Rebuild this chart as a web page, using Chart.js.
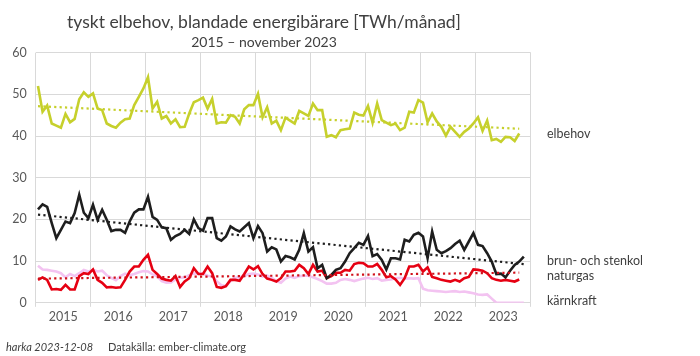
<!DOCTYPE html>
<html>
<head>
<meta charset="utf-8">
<script src="https://cdn.jsdelivr.net/npm/chart.js@4.4.0/dist/chart.umd.min.js"></script>
<style>
  body { margin: 0; background: #fff; }
  canvas { display: block; }
</style>
</head>
<body>
<canvas id="chart" width="700" height="356"></canvas>
<script>
'use strict';

// month series, Jan 2015 onwards [TWh/month]
const years = ['2015', '2016', '2017', '2018', '2019', '2020', '2021', '2022', '2023'];

const elbehov = [
  52.0, 45.8, 47.3, 43.0, 42.5, 42.0, 45.3, 43.3, 44.1, 48.8, 50.5, 49.4,
  50.2, 46.6, 46.2, 43.0, 42.4, 42.0, 43.2, 44.0, 44.2, 47.4, 49.4, 51.4,
  54.1, 46.6, 48.2, 44.2, 44.8, 43.0, 44.0, 42.1, 42.2, 45.4, 48.1, 48.6,
  49.2, 46.6, 48.9, 43.0, 43.3, 43.2, 45.0, 44.6, 43.0, 46.4, 47.4, 47.4,
  50.1, 44.5, 46.9, 43.0, 43.7, 41.4, 44.4, 43.7, 43.0, 46.0, 45.4, 44.8,
  47.8, 46.2, 46.2, 39.8, 40.2, 39.7, 41.4, 41.6, 41.8, 45.6, 45.1, 44.9,
  47.2, 43.2, 47.8, 43.8, 43.2, 42.6, 43.0, 41.4, 42.0, 45.8, 45.6, 48.6,
  48.0, 43.3, 45.4, 43.5, 42.2, 40.1, 42.2, 41.0, 39.8, 41.0, 41.8, 43.0,
  44.5, 41.2, 43.7, 39.0, 39.3, 38.6, 39.8, 39.7, 38.8, 40.6
];

const kol = [
  22.4, 23.6, 23.0, 19.1, 15.5, 17.5, 19.5, 19.1, 21.5, 25.9, 21.6, 20.3,
  23.5, 19.9, 22.3, 19.9, 17.2, 17.5, 17.5, 16.8, 19.5, 21.6, 22.4, 22.4,
  25.4, 20.6, 19.9, 18.1, 17.9, 15.1, 16.0, 16.5, 17.5, 16.5, 20.0, 17.9,
  17.3, 20.3, 20.3, 15.5, 14.9, 15.9, 18.3, 17.6, 17.1, 18.1, 19.1, 15.5,
  18.4, 16.7, 12.3, 13.3, 12.8, 9.9, 11.2, 10.9, 10.4, 12.7, 16.7, 12.3,
  13.3, 8.3, 9.1, 5.9, 6.7, 7.9, 8.3, 9.9, 11.9, 13.1, 14.4, 13.9,
  16.0, 11.2, 11.7, 10.3, 8.0, 10.7, 10.7, 10.4, 15.1, 14.7, 16.3, 16.8,
  15.9, 10.7, 17.1, 12.7, 11.9, 12.4, 13.1, 14.1, 14.9, 12.7, 14.7, 16.7,
  13.9, 13.6, 11.9, 9.9, 6.9, 7.0, 6.1, 7.7, 9.1, 9.9, 11.1
];

const naturgas = [
  5.5, 6.1, 5.5, 3.2, 3.3, 3.1, 4.3, 3.2, 3.2, 6.4, 7.1, 6.9,
  8.0, 5.5, 4.8, 3.7, 3.8, 3.6, 3.7, 5.5, 7.5, 8.7, 8.7, 10.3,
  11.5, 7.9, 6.9, 5.8, 5.5, 5.3, 6.4, 3.8, 5.1, 5.9, 8.3, 6.9,
  6.9, 8.7, 7.1, 3.8, 3.6, 4.0, 5.5, 5.5, 5.3, 6.9, 8.7, 8.0,
  8.8, 6.9, 5.8, 5.5, 5.1, 5.9, 7.5, 7.5, 7.7, 9.1, 8.3, 6.9,
  9.1, 7.5, 7.7, 5.9, 6.4, 7.2, 7.2, 7.9, 7.7, 9.3, 9.6, 9.5,
  8.7, 8.7, 9.3, 7.9, 6.1, 6.4, 5.6, 4.3, 5.9, 8.7, 8.7, 9.1,
  7.5, 8.5, 6.2, 5.9, 5.5, 5.3, 5.1, 5.5, 5.1, 5.9, 6.2, 8.0,
  7.9, 7.7, 7.1, 5.9, 5.5, 5.3, 5.5, 5.3, 5.1, 5.6
];

const karnkraft = [
  8.9, 8.0, 7.9, 7.7, 7.5, 7.1, 6.1, 6.9, 6.4, 7.1, 7.9, 7.5,
  7.9, 7.5, 7.7, 6.6, 6.0, 5.4, 6.4, 7.0, 6.6, 6.9, 7.3, 7.6,
  7.5, 6.8, 6.4, 5.2, 4.8, 4.9, 5.6, 6.0, 6.1, 6.6, 7.0, 7.1,
  7.0, 6.5, 6.4, 5.2, 4.2, 4.0, 5.2, 6.0, 6.1, 6.4, 6.9, 7.0,
  6.8, 6.3, 6.5, 6.0, 5.2, 4.8, 5.8, 6.3, 6.0, 6.4, 6.5, 6.5,
  6.1, 5.7, 5.2, 4.6, 4.6, 4.8, 5.5, 5.7, 5.5, 5.2, 5.5, 5.8,
  6.0, 5.7, 5.9, 5.3, 5.5, 5.6, 5.9, 6.0, 5.8, 5.9, 5.8, 5.9,
  3.4, 3.0, 2.9, 2.8, 2.7, 2.6, 2.7, 2.8, 2.6, 2.7, 2.5, 2.3,
  2.0, 1.9, 2.0, 1.0, 0, 0, 0, 0, 0, 0, 0
];

const seriesNames = ['elbehov', 'brun- och stenkol', 'naturgas', 'kärnkraft'];

const GREEN = '#c6d02c';
const BLACK = '#1e1e1e';
const RED = '#e60012';
const PINK = '#f3c3f1';
const GRID = '#d9d9d9';
const TEXT = '#595959';
const FONT = 'Lato';

// each value sits in the middle of its month slot
function points(values) {
  return values.map((v, i) => ({x: i + 0.5, y: v}));
}

// least squares trend over the month index
function trend(values) {
  const n = values.length;
  let sx = 0, sy = 0, sxx = 0, sxy = 0;
  values.forEach((v, i) => {
    sx += i; sy += v; sxx += i * i; sxy += i * v;
  });
  const k = (n * sxy - sx * sy) / (n * sxx - sx * sx);
  const m = (sy - k * sx) / n;
  return [{x: 0.5, y: m}, {x: n - 0.5, y: m + k * (n - 1)}];
}

function lineSet(label, values, color, order) {
  return {
    label: label,
    data: points(values),
    borderColor: color,
    borderWidth: 2.6,
    pointRadius: 0,
    tension: 0,
    order: order
  };
}

function trendSet(values, color) {
  return {
    label: 'trend',
    data: trend(values),
    borderColor: color,
    borderWidth: 2.2,
    borderDash: [2.2, 3.2],
    pointRadius: 0,
    order: 0
  };
}

const labelNudge = [0, 4, -3, 0];

const textPlugin = {
  id: 'texts',
  afterDraw(chart) {
    const ctx = chart.ctx;
    const y = chart.scales.y;
    ctx.save();
    ctx.fillStyle = '#404040';
    ctx.textAlign = 'center';
    ctx.textBaseline = 'middle';
    ctx.font = '17.5px ' + FONT;
    ctx.fillText('tyskt elbehov, blandade energibärare [TWh/månad]', 264, 22);
    ctx.font = '14px ' + FONT;
    ctx.fillText('2015 – november 2023', 264, 42);

    // series names to the right of the lines
    ctx.textAlign = 'left';
    ctx.font = '12.5px ' + FONT;
    ctx.fillStyle = '#404040';
    const ends = [elbehov, kol, naturgas, karnkraft];
    ends.forEach((vals, i) => {
      const py = y.getPixelForValue(vals[vals.length - 1]) + labelNudge[i];
      ctx.fillText(seriesNames[i], 547, Math.min(py, 301));
    });

    ctx.fillStyle = '#404040';
    ctx.font = 'italic 11px ' + FONT;
    ctx.fillText('harka 2023-12-08', 6, 347);
    ctx.font = '11px ' + FONT;
    ctx.fillText('Datakälla: ember-climate.org', 108, 347);
    ctx.restore();
  }
};

const ctx = document.getElementById('chart').getContext('2d');
new Chart(ctx, {
  type: 'line',
  data: {
    datasets: [
      trendSet(elbehov, GREEN),
      trendSet(kol, BLACK),
      trendSet(naturgas, '#d0101a'),
      lineSet(seriesNames[0], elbehov, GREEN, 1),
      lineSet(seriesNames[1], kol, BLACK, 2),
      lineSet(seriesNames[2], naturgas, RED, 3),
      lineSet(seriesNames[3], karnkraft, PINK, 4)
    ]
  },
  options: {
    responsive: false,
    animation: false,
    layout: {padding: {top: 52.6, right: 169.3, left: 0, bottom: 0}},
    plugins: {
      legend: {display: false},
      tooltip: {enabled: false}
    },
    scales: {
      x: {
        type: 'linear',
        min: 0,
        max: 108,
        afterBuildTicks: (axis) => {
          const ticks = [];
          for (let v = 0; v <= 108; v += 6) ticks.push({value: v});
          axis.ticks = ticks;
        },
        afterFit: (scale) => { scale.height = 53.2; },
        ticks: {
          autoSkip: false,
          maxRotation: 0,
          padding: 3,
          color: TEXT,
          font: {family: FONT, size: 12.5},
          callback: (v) => (v % 12 === 6 ? years[(v - 6) / 12] : '')
        },
        grid: {
          color: (c) => (c.tick && c.tick.value % 12 === 0 ? GRID : 'rgba(0,0,0,0)'),
          tickLength: 4
        },
        border: {color: GRID}
      },
      y: {
        min: 0,
        max: 60,
        afterFit: (scale) => { scale.width = 35.7; },
        ticks: {
          stepSize: 10,
          padding: 9,
          color: TEXT,
          font: {family: FONT, size: 12.5}
        },
        grid: {color: GRID, drawTicks: false},
        border: {display: false}
      }
    }
  },
  plugins: [textPlugin]
});
</script>
</body>
</html>
